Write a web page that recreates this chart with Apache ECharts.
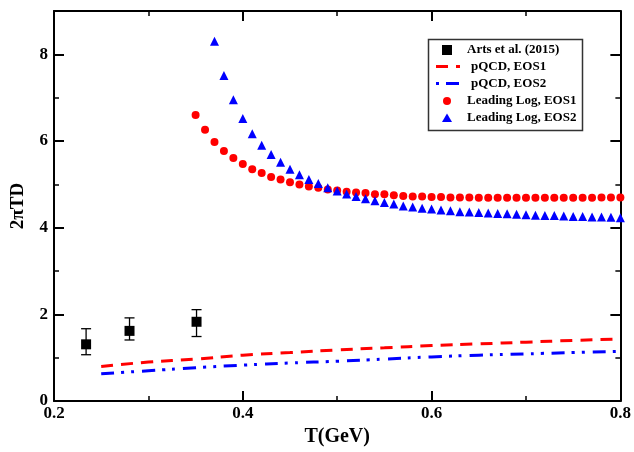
<!DOCTYPE html>
<html><head><meta charset="utf-8">
<script src="https://cdn.jsdelivr.net/npm/echarts@6/dist/echarts.min.js"></script>
<style>html,body{margin:0;padding:0;background:#fff}#c{width:634px;height:452px}</style>
</head><body><div id="c"></div>
<script>
// Arts et al. (2015)
const artsT = [0.234, 0.280, 0.351];
const artsD = [1.31, 1.62, 1.83];
const artsLow = [1.07, 1.41, 1.49];
const artsHigh = [1.67, 1.92, 2.11];
// pQCD curves
const pqcdT = [0.25, 0.30, 0.35, 0.40, 0.45, 0.50, 0.55, 0.60, 0.65, 0.70, 0.75, 0.80];
const pqcdEOS1 = [0.80, 0.90, 0.97, 1.06, 1.12, 1.18, 1.23, 1.28, 1.32, 1.36, 1.40, 1.43];
const pqcdEOS2 = [0.63, 0.70, 0.77, 0.83, 0.88, 0.92, 0.97, 1.02, 1.06, 1.09, 1.12, 1.15];
// Leading Log, EOS1 (T = 0.35 ... 0.80)
const llT1 = [0.35,0.36,0.37,0.38,0.39,0.40,0.41,0.42,0.43,0.44,0.45,0.46,0.47,0.48,0.49,0.50,0.51,0.52,0.53,0.54,0.55,0.56,0.57,0.58,0.59,0.60,0.61,0.62,0.63,0.64,0.65,0.66,0.67,0.68,0.69,0.70,0.71,0.72,0.73,0.74,0.75,0.76,0.77,0.78,0.79,0.80];
const llEOS1 = [6.60,6.26,5.98,5.77,5.61,5.47,5.35,5.26,5.17,5.11,5.05,5.00,4.95,4.92,4.88,4.86,4.83,4.81,4.80,4.77,4.77,4.75,4.73,4.72,4.72,4.71,4.71,4.70,4.70,4.70,4.69,4.69,4.69,4.69,4.69,4.69,4.69,4.69,4.69,4.69,4.69,4.69,4.69,4.70,4.70,4.70];
// Leading Log, EOS2 (T = 0.37 ... 0.80)
const llT2 = [0.37,0.38,0.39,0.40,0.41,0.42,0.43,0.44,0.45,0.46,0.47,0.48,0.49,0.50,0.51,0.52,0.53,0.54,0.55,0.56,0.57,0.58,0.59,0.60,0.61,0.62,0.63,0.64,0.65,0.66,0.67,0.68,0.69,0.70,0.71,0.72,0.73,0.74,0.75,0.76,0.77,0.78,0.79,0.80];
const llEOS2 = [8.30,7.51,6.95,6.52,6.17,5.90,5.69,5.51,5.35,5.22,5.11,5.02,4.92,4.85,4.78,4.72,4.67,4.62,4.58,4.55,4.50,4.48,4.45,4.43,4.41,4.39,4.37,4.36,4.35,4.34,4.33,4.32,4.31,4.30,4.29,4.28,4.28,4.27,4.26,4.26,4.25,4.25,4.24,4.23];
const xTicks = [0.2, 0.4, 0.6, 0.8];
const yTicks = [0, 2, 4, 6, 8];
const legendNames = ['Arts et al. (2015)', 'pQCD, EOS1', 'pQCD, EOS2', 'Leading Log, EOS1', 'Leading Log, EOS2'];

const FONT = '"Liberation Serif", "Times New Roman", serif';
const zip = (a, b) => a.map((v, i) => [v, b[i]]);

const chart = echarts.init(document.getElementById('c'), null, {renderer: 'canvas'});
const axisBase = {
  axisLine: {show: true, onZero: false, lineStyle: {color: '#000', width: 2}},
  axisTick: {show: true, inside: true, length: 10, lineStyle: {color: '#000', width: 2}},
  minorTick: {show: true, splitNumber: 2, length: 5, lineStyle: {color: '#000', width: 1.5}},
  splitLine: {show: false}
};
const xLab = {color: '#000', fontFamily: FONT, fontWeight: 'bold', fontSize: 17, margin: 4,
  formatter: v => (xTicks.some(t => Math.abs(t - v) < 1e-9) ? v.toFixed(1) : '')};
const yLab = {color: '#000', fontFamily: FONT, fontWeight: 'bold', fontSize: 17, margin: 6,
  formatter: v => (yTicks.indexOf(v) >= 0 ? String(v) : '')};

chart.setOption({
  animation: false,
  backgroundColor: '#fff',
  grid: {left: 54, right: 11, top: 11, bottom: 45, containLabel: false},
  xAxis: [
    Object.assign({type: 'value', min: 0.2, max: 0.8, interval: 0.2, position: 'bottom',
      name: 'T(GeV)', nameLocation: 'middle', nameGap: 24,
      nameTextStyle: {color: '#000', fontFamily: FONT, fontWeight: 'bold', fontSize: 20},
      axisLabel: xLab}, axisBase),
    Object.assign({type: 'value', min: 0.2, max: 0.8, interval: 0.2, position: 'top',
      axisLabel: {show: false}}, axisBase)
  ],
  yAxis: [
    Object.assign({type: 'value', min: 0, max: 9, interval: 2, position: 'left',
      name: '2\u03c0TD', nameLocation: 'middle', nameGap: 26, nameRotate: 90,
      nameTextStyle: {color: '#000', fontFamily: FONT, fontWeight: 'bold', fontSize: 19},
      axisLabel: yLab}, axisBase),
    Object.assign({type: 'value', min: 0, max: 9, interval: 2, position: 'right',
      axisLabel: {show: false}}, axisBase)
  ],
  series: [
    {name: 'pQCD, EOS1', type: 'line', data: zip(pqcdT, pqcdEOS1), showSymbol: false, smooth: true,
      lineStyle: {color: '#ff0000', width: 3, type: [12, 8]}, z: 2},
    {name: 'pQCD, EOS2', type: 'line', data: zip(pqcdT, pqcdEOS2), showSymbol: false, smooth: true,
      lineStyle: {color: '#0000ff', width: 3, type: [13, 7, 3, 7, 3, 8]}, z: 2},
    {name: 'Leading Log, EOS1', type: 'scatter', data: zip(llT1, llEOS1), symbol: 'circle', symbolSize: 8,
      itemStyle: {color: '#ff0000', opacity: 1}, clip: false, z: 3},
    {name: 'Leading Log, EOS2', type: 'scatter', data: zip(llT2, llEOS2), symbol: 'triangle', symbolSize: 9,
      itemStyle: {color: '#0000ff', opacity: 1}, clip: false, z: 3},
    {name: 'Arts error', type: 'custom', data: artsT.map((t, i) => [t, artsLow[i], artsHigh[i]]),
      renderItem: function (params, api) {
        const lo = api.coord([api.value(0), api.value(1)]);
        const hi = api.coord([api.value(0), api.value(2)]);
        const w = 5;
        const st = {stroke: '#000', lineWidth: 1.3};
        return {type: 'group', children: [
          {type: 'line', shape: {x1: lo[0], y1: lo[1], x2: hi[0], y2: hi[1]}, style: st},
          {type: 'line', shape: {x1: lo[0] - w, y1: lo[1], x2: lo[0] + w, y2: lo[1]}, style: st},
          {type: 'line', shape: {x1: hi[0] - w, y1: hi[1], x2: hi[0] + w, y2: hi[1]}, style: st}
        ]};
      }, z: 4},
    {name: 'Arts et al. (2015)', type: 'scatter', data: zip(artsT, artsD), symbol: 'rect', symbolSize: 10,
      itemStyle: {color: '#000', opacity: 1}, z: 5}
  ],
  graphic: [
    {type: 'rect', shape: {x: 428.5, y: 39.5, width: 154, height: 91}, style: {fill: '#fff', stroke: '#333', lineWidth: 1.5}, z: 10},
    {type: 'rect', shape: {x: 442, y: 45, width: 10, height: 10}, style: {fill: '#000'}, z: 11},
    {type: 'polyline', shape: {points: [[436, 66.5], [460, 66.5]]}, style: {stroke: '#ff0000', lineWidth: 3, lineDash: [12, 8]}, z: 11},
    {type: 'polyline', shape: {points: [[436, 83.5], [460, 83.5]]}, style: {stroke: '#0000ff', lineWidth: 3, lineDash: [3, 7, 13, 7]}, z: 11},
    {type: 'circle', shape: {cx: 447, cy: 101, r: 4}, style: {fill: '#ff0000'}, z: 11},
    {type: 'polygon', shape: {points: [[447, 113.5], [452, 122], [442, 122]]}, style: {fill: '#0000ff'}, z: 11},
    {type: 'text', x: 467, y: 50, style: {text: legendNames[0], font: 'bold 13px ' + FONT, fill: '#000', verticalAlign: 'middle'}, z: 11},
    {type: 'text', x: 471, y: 66.5, style: {text: legendNames[1], font: 'bold 13px ' + FONT, fill: '#000', verticalAlign: 'middle'}, z: 11},
    {type: 'text', x: 471, y: 83.5, style: {text: legendNames[2], font: 'bold 13px ' + FONT, fill: '#000', verticalAlign: 'middle'}, z: 11},
    {type: 'text', x: 467, y: 101, style: {text: legendNames[3], font: 'bold 13px ' + FONT, fill: '#000', verticalAlign: 'middle'}, z: 11},
    {type: 'text', x: 467, y: 118, style: {text: legendNames[4], font: 'bold 13px ' + FONT, fill: '#000', verticalAlign: 'middle'}, z: 11}
  ]
});
</script></body></html>
